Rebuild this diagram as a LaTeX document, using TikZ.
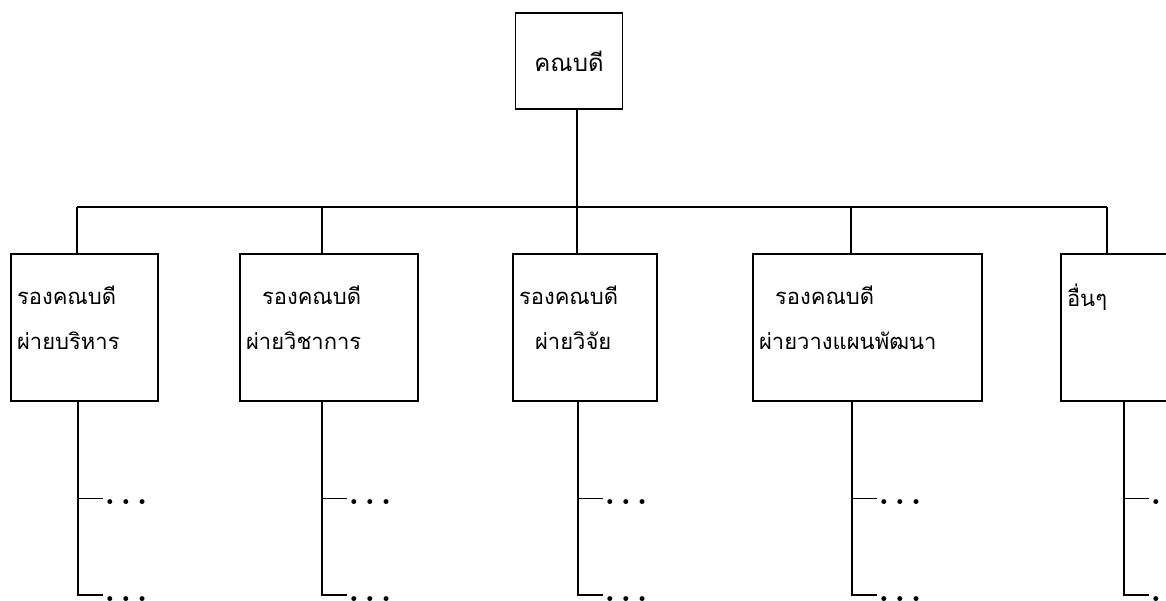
\documentclass[tikz,border=0pt]{standalone}
\usepackage{fontspec}
\newfontfamily\thaifont[Script=Thai]{Loma}
\usetikzlibrary{positioning,calc}
\newcommand\ellip{.\hspace{5.5pt}.\hspace{5.5pt}.}

\begin{document}
\begin{tikzpicture}[x=1pt, y=-1pt, line width=1.1pt]
   \useasboundingbox (0,0) rectangle (1166,601);
   \node (dean) [draw, minimum height=96pt, text width=100pt, align=center, font=\thaifont\fontsize{24}{30}\selectfont] at (569,61) {คณบดี};
   \begin{scope}[every node/.style={draw, align=left, inner xsep=6pt, text depth=64pt, minimum height=147pt, font=\thaifont\fontsize{22}{45}\selectfont}]
    \node (vp1) [text width=135pt] at (84.5,327.5) {รองคณบดี\\ผ่ายบริหาร};
    \node (vp2) [text width=166pt] at (329,327.5) {\hspace*{16pt}รองคณบดี\\ผ่ายวิชาการ};
    \node (vp3) [text width=132pt] at (585,327.5) {รองคณบดี\\\hspace*{16pt}ผ่ายวิจัย};
    \node (vp4) [text width=217pt] at (867.5,327.5) {\hspace*{16pt}รองคณบดี\\ผ่ายวางแผนพัฒนา};
    \node (other) [text width=148pt] at (1141,327.5) {อื่นๆ\\\phantom{ผ่าย}};
   \end{scope}
   \coordinate (bar) at (577,207);
   \draw (dean.south -| bar) -- (bar);
   \foreach \n/\x in {vp1/77, vp2/322, vp3/577, vp4/851, other/1107} {
    \coordinate (top\n) at (\x,207);
    \draw (top\n) -- (top\n |- \n.north);
   }
   \draw (topvp1) -- (topother);
   \begin{scope}[every node/.style={anchor=west, inner sep=0pt, xshift=1pt, yshift=-4pt, font=\fontsize{34}{34}\bfseries}]
   \foreach \n/\x in {vp1/77, vp2/321, vp3/577, vp4/851, other/1123} {
    \coordinate (sub\n) at (\x,591);
    \draw (sub\n |- \n.south) -- (sub\n) -- ++(25,0) node (lo\n) {\ellip};
    \draw ($(sub\n |- \n.south)!.5!(sub\n)$) -- ++(25,0) node (hi\n) {\ellip};
   }
   \end{scope}
\end{tikzpicture}
\end{document}
